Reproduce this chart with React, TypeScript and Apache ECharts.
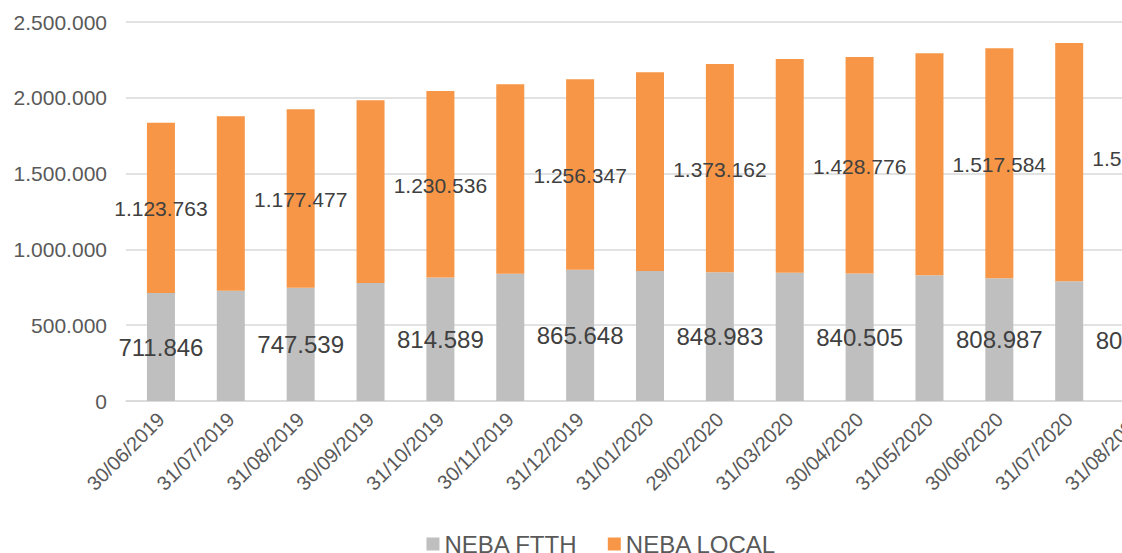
import React, { useEffect, useRef } from "react";
import * as echarts from "echarts";

const categories = [
  "30/06/2019", "31/07/2019", "31/08/2019", "30/09/2019", "31/10/2019",
  "30/11/2019", "31/12/2019", "31/01/2020", "29/02/2020", "31/03/2020",
  "30/04/2020", "31/05/2020", "30/06/2020", "31/07/2020", "31/08/2020",
];

const nebaFtth = [
  711846, 728000, 747539, 778300, 814589, 839700, 865648, 857500,
  848983, 846300, 840505, 829100, 808987, 789500, 804500,
];

const nebaLocal = [
  1123763, 1150000, 1177477, 1205100, 1230536, 1249300, 1256347, 1310500,
  1373162, 1409500, 1428776, 1464300, 1517584, 1571900, 1598000,
];

const yTicks = { min: 0, max: 2500000, interval: 500000 };

const fmt = (v: number) => String(Math.round(v)).replace(/\B(?=(\d{3})+(?!\d))/g, ".");

export default function App() {
  const ref = useRef<HTMLDivElement>(null);
  useEffect(() => {
    if (!ref.current) return;
    const chart = echarts.init(ref.current, undefined, { renderer: "svg" });
    const font = "'Liberation Sans', Arial, sans-serif";
    chart.setOption({
      animation: false,
      textStyle: { fontFamily: font },
      grid: { left: 126, right: 29, top: 22, bottom: 179, containLabel: false },
      legend: {
        data: ["NEBA FTTH", "NEBA LOCAL"],
        left: "center",
        top: 527,
        icon: "rect",
        itemWidth: 13,
        itemHeight: 13,
        itemGap: 30,
        textStyle: { fontSize: 24, color: "#595959", fontFamily: font },
      },
      xAxis: {
        type: "category",
        data: categories,
        axisLine: { lineStyle: { color: "#D9D9D9", width: 1.5 } },
        axisTick: { show: false },
        axisLabel: {
          rotate: 45,
          fontSize: 20,
          color: "#595959",
          margin: 15,
          interval: 0,
          fontFamily: font,
        },
      },
      yAxis: {
        type: "value",
        min: yTicks.min,
        max: yTicks.max,
        interval: yTicks.interval,
        axisLine: { show: false },
        axisTick: { show: false },
        splitLine: { lineStyle: { color: "#D9D9D9", width: 1.5 } },
        axisLabel: {
          fontSize: 21,
          color: "#595959",
          margin: 19,
          formatter: (v: number) => fmt(v),
          fontFamily: font,
        },
      },
      series: [
        {
          name: "NEBA FTTH",
          type: "bar",
          stack: "total",
          barWidth: 28,
          itemStyle: { color: "#BFBFBF" },
          data: nebaFtth.map((v, i) => ({
            value: v,
            label: {
              show: i % 2 === 0,
              position: "inside",
              fontSize: 24,
              color: "#404040",
              offset: [0, 0],
              formatter: (p: any) => fmt(p.value),
              fontFamily: font,
            },
          })),
        },
        {
          name: "NEBA LOCAL",
          type: "bar",
          stack: "total",
          barWidth: 28,
          itemStyle: { color: "#F79646" },
          data: nebaLocal.map((v, i) => ({
            value: v,
            label: {
              show: i % 2 === 0,
              position: "inside",
              fontSize: 21,
              color: "#404040",
              offset: [0, 1],
              formatter: (p: any) => fmt(p.value),
              fontFamily: font,
            },
          })),
        },
      ],
    });
    return () => chart.dispose();
  }, []);
  return (
    <div
      style={{
        position: "absolute",
        left: 0,
        top: 0,
        width: 1122,
        height: 553,
        overflow: "hidden",
        background: "#fff",
      }}
    >
      <div ref={ref} style={{ width: 1203, height: 580 }} />
    </div>
  );
}
